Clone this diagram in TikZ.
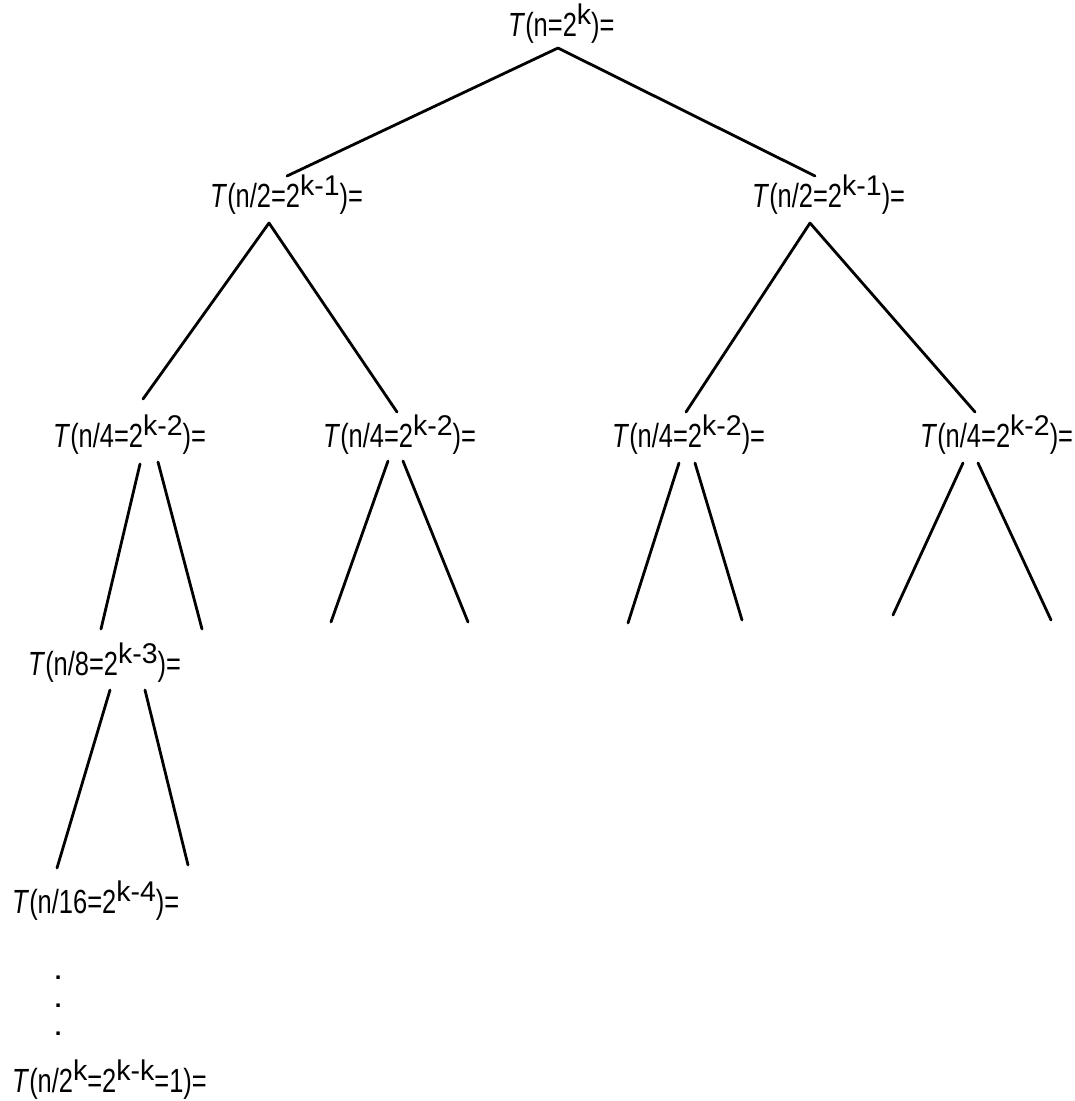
\documentclass[tikz,border=0pt]{standalone}
\usepackage{fontspec}
\setmainfont[FakeStretch=0.76]{Liberation Sans}
\newfontfamily\supfont{Liberation Sans}
\newcommand\upx[1]{\raisebox{12pt}{\supfont\fontsize{28.5}{28.5}\selectfont #1}}
\begin{document}
\begin{tikzpicture}[x=1pt,y=-1pt,
  lbl/.style={anchor=base west,inner sep=0pt,font=\fontsize{33.5}{38}\selectfont},
  dotlbl/.style={anchor=base west,inner sep=0pt,font=\supfont\bfseries\fontsize{24}{24}\selectfont},
  edge/.style={line width=2.8pt,line cap=round}]
\useasboundingbox (0,0) rectangle (1075,1101);
% texts
\node[lbl] (r) at (508,36) {\textit{T}(n=2\upx{k})=};
\node[lbl] (a) at (210,207) {\textit{T}(n/2=2\upx{k-1})=};
\node[lbl] (b) at (752,207) {\textit{T}(n/2=2\upx{k-1})=};
\node[lbl] (aa) at (53,447) {\textit{T}(n/4=2\upx{k-2})=};
\node[lbl] (ab) at (323,447) {\textit{T}(n/4=2\upx{k-2})=};
\node[lbl] (ba) at (612,447) {\textit{T}(n/4=2\upx{k-2})=};
\node[lbl] (bb) at (920,447) {\textit{T}(n/4=2\upx{k-2})=};
\node[lbl] (c) at (28,675) {\textit{T}(n/8=2\upx{k-3})=};
\node[lbl] (d) at (12,913) {\textit{T}(n/16=2\upx{k-4})=};
\node[dotlbl] (dot1) at (54.6,979) {.};
\node[dotlbl] (dot2) at (54.6,1007) {.};
\node[dotlbl] (dot3) at (54.6,1035) {.};
\node[lbl] (e) at (12,1092) {\textit{T}(n/2\upx{k}=2\upx{k-k}=1)=};
% connector ends
\coordinate (rS) at (558,48);
\coordinate (aN) at (287,176);
\coordinate (bN) at (815,176);
\coordinate (aS) at (269,223);
\coordinate (bS) at (810,223);
\coordinate (aaN) at (143,399);
\coordinate (abN) at (397,412);
\coordinate (baN) at (686,412);
\coordinate (bbN) at (975,412);
\coordinate (aaL) at (140,464);
\coordinate (aaR) at (158,462);
\coordinate (abL) at (388,461);
\coordinate (abR) at (403,461);
\coordinate (baL) at (679,463);
\coordinate (baR) at (695,463);
\coordinate (bbL) at (963,463);
\coordinate (bbR) at (978,463);
\coordinate (cN) at (101,629);
\coordinate (f1) at (202,629);
\coordinate (f2) at (331,622);
\coordinate (f3) at (468,622);
\coordinate (f4) at (628,623);
\coordinate (f5) at (742,620);
\coordinate (f6) at (893,615);
\coordinate (f7) at (1051,620);
\coordinate (cL) at (110,690);
\coordinate (cR) at (145,690);
\coordinate (dN) at (57,868);
\coordinate (f8) at (188,865);
% connectors
\draw[edge] (rS) -- (aN);
\draw[edge] (rS) -- (bN);
\draw[edge] (aS) -- (aaN);
\draw[edge] (aS) -- (abN);
\draw[edge] (bS) -- (baN);
\draw[edge] (bS) -- (bbN);
\draw[edge] (aaL) -- (cN);
\draw[edge] (aaR) -- (f1);
\draw[edge] (abL) -- (f2);
\draw[edge] (abR) -- (f3);
\draw[edge] (baL) -- (f4);
\draw[edge] (baR) -- (f5);
\draw[edge] (bbL) -- (f6);
\draw[edge] (bbR) -- (f7);
\draw[edge] (cL) -- (dN);
\draw[edge] (cR) -- (f8);
\end{tikzpicture}
\end{document}
